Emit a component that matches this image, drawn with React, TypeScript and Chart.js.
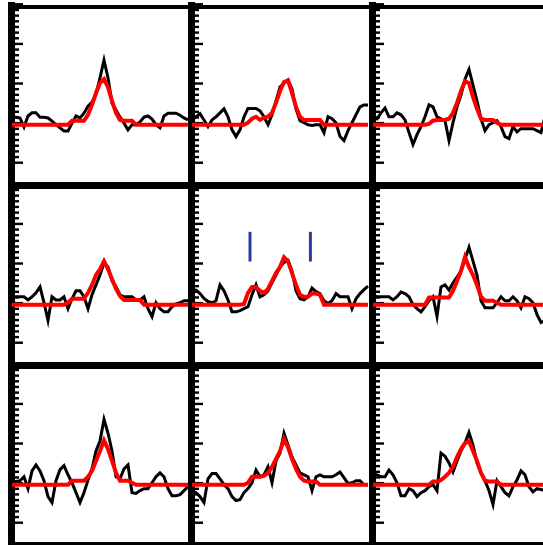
import React, { useEffect, useRef } from "react";
import { Chart, registerables } from "chart.js";

Chart.register(...registerables);

// channel index along each spectrum
const channels = [
  0, 1, 2, 3, 4, 5, 6, 7, 8, 9, 10, 11, 12, 13, 14, 15, 16, 17, 18, 19, 20, 21,
  22, 23, 24, 25, 26, 27, 28, 29, 30, 31, 32, 33, 34, 35, 36, 37, 38, 39, 40, 41,
  42, 43, 44,
];

// observed spectra (black)
const spec1 = [0.19, 0.19, 0.17, -0.06, 0.22, 0.3, 0.3, 0.19, 0.19, 0.17, 0.09, 0.0, -0.08, -0.16, -0.16, 0.04, 0.22, 0.17, 0.29, 0.47, 0.57, 0.77, 1.18, 1.63, 1.18, 0.55, 0.37, 0.19, 0.04, -0.13, 0.0, 0.0, 0.07, 0.19, 0.22, 0.14, 0.0, -0.08, 0.22, 0.29, 0.29, 0.29, 0.24, 0.17, 0.12];
const spec2 = [0.12, 0.2, 0.28, 0.12, -0.05, 0.12, 0.2, 0.3, 0.4, 0.2, -0.13, -0.3, -0.13, 0.2, 0.41, 0.41, 0.41, 0.35, 0.2, 0.0, 0.25, 0.6, 0.95, 1.05, 1.13, 0.9, 0.4, 0.1, 0.05, 0.0, -0.02, 0.0, 0.0, -0.2, 0.2, 0.15, 0.05, -0.3, -0.4, -0.15, 0.05, 0.25, 0.45, 0.5, 0.5];
const spec3 = [0.2, 0.15, 0.3, 0.42, 0.2, 0.2, 0.3, 0.25, 0.12, -0.2, -0.5, -0.25, -0.05, 0.2, 0.5, 0.45, 0.2, 0.15, 0.1, -0.4, 0.05, 0.45, 0.75, 1.15, 1.4, 1.0, 0.6, 0.15, -0.15, 0.0, 0.05, 0.1, -0.05, -0.3, -0.35, -0.05, -0.18, -0.1, -0.1, -0.1, -0.1, -0.15, -0.2, 0.2, 0.3];
const spec4 = [0.2, 0.2, 0.2, 0.2, 0.12, 0.2, 0.3, 0.45, 0.05, -0.4, 0.2, 0.12, 0.12, 0.2, -0.1, 0.15, 0.35, 0.35, 0.2, -0.1, 0.25, 0.5, 0.75, 1.05, 0.95, 0.6, 0.45, 0.25, 0.2, 0.2, 0.2, 0.12, 0.12, 0.2, -0.1, -0.3, 0.05, -0.1, -0.18, -0.18, -0.05, 0.02, 0.05, 0.1, 0.1];
const spec5 = [0.35, 0.37, 0.28, 0.16, 0.08, 0.05, 0.1, 0.5, 0.35, 0.12, -0.18, -0.18, -0.15, -0.1, -0.05, 0.25, 0.5, 0.2, 0.25, 0.35, 0.55, 0.75, 0.95, 1.07, 1.12, 0.85, 0.35, 0.15, 0.12, 0.2, 0.42, 0.33, 0.28, 0.1, 0.03, 0.1, 0.28, 0.2, 0.2, 0.2, -0.1, 0.15, 0.28, 0.38, 0.47];
const spec6 = [0.25, 0.2, 0.2, 0.2, 0.2, 0.12, 0.2, 0.32, 0.28, 0.2, 0.0, -0.1, -0.18, -0.05, 0.1, 0.2, -0.3, 0.45, 0.5, 0.37, 0.55, 0.7, 0.85, 1.15, 1.45, 1.1, 0.75, 0.1, -0.08, -0.08, -0.08, 0.05, 0.2, 0.1, 0.1, 0.2, 0.1, -0.08, 0.2, 0.15, 0.05, -0.25, -0.45, -0.4, -0.3];
const spec7 = [0.08, 0.08, 0.1, 0.2, -0.1, 0.35, 0.5, 0.35, 0.1, -0.3, -0.45, 0.1, 0.38, 0.48, 0.25, 0.05, -0.2, -0.45, -0.2, 0.12, 0.4, 0.85, 1.1, 1.65, 1.3, 0.85, 0.2, 0.15, 0.4, 0.5, -0.2, -0.22, -0.15, -0.1, -0.1, 0.05, 0.2, 0.3, 0.2, -0.1, -0.28, -0.28, -0.25, -0.15, -0.05];
const spec8 = [-0.15, -0.2, -0.3, -0.45, 0.15, 0.28, 0.28, 0.15, 0.0, -0.1, -0.3, -0.4, -0.38, -0.2, -0.1, 0.05, 0.37, 0.2, 0.25, 0.45, 0.05, 0.6, 0.8, 1.3, 1.0, 0.7, 0.5, 0.3, 0.25, 0.2, -0.15, 0.2, 0.25, 0.2, 0.2, 0.2, 0.25, 0.32, 0.18, 0.03, 0.05, 0.1, 0.1, 0.0, 0.0];
const spec9 = [0.25, 0.25, 0.2, 0.2, 0.37, 0.25, 0.05, -0.28, -0.28, -0.1, -0.15, -0.3, -0.2, -0.15, -0.05, 0.0, -0.15, 0.8, 0.72, 0.55, 0.32, 0.6, 0.85, 1.05, 1.32, 1.0, 0.55, 0.3, 0.1, -0.15, -0.5, 0.1, -0.05, -0.2, -0.28, -0.05, 0.12, 0.35, 0.25, -0.05, -0.18, -0.1, -0.12, -0.15, -0.1];

// model fits (red)
const fit1 = [0, 0, 0, 0, 0, 0, 0, 0, 0, 0, 0, 0, 0, 0, 0, 0.1, 0.1, 0.1, 0.1, 0.25, 0.5, 0.8, 1.05, 1.15, 0.95, 0.6, 0.3, 0.12, 0.1, 0.1, 0.1, 0, 0, 0, 0, 0, 0, 0, 0, 0, 0, 0, 0, 0, 0];
const fit2 = [0, 0, 0, 0, 0, 0, 0, 0, 0, 0, 0, 0, 0, 0, 0.05, 0.15, 0.2, 0.12, 0.18, 0.2, 0.3, 0.55, 0.85, 1.08, 1.12, 0.8, 0.45, 0.2, 0.12, 0.12, 0.12, 0.12, 0.12, 0, 0, 0, 0, 0, 0, 0, 0, 0, 0, 0, 0];
const fit3 = [0, 0, 0, 0, 0, 0, 0, 0, 0, 0, 0, 0, 0, 0, 0.02, 0.1, 0.12, 0.12, 0.12, 0.15, 0.3, 0.55, 0.85, 1.1, 1.05, 0.7, 0.4, 0.15, 0.12, 0.12, 0.12, 0.05, 0, 0, 0, 0, 0, 0, 0, 0, 0, 0, 0, 0, 0];
const fit4 = [0, 0, 0, 0, 0, 0, 0, 0, 0, 0, 0, 0, 0, 0, 0.05, 0.15, 0.15, 0.15, 0.15, 0.3, 0.5, 0.75, 0.9, 1.1, 0.9, 0.65, 0.4, 0.22, 0.12, 0.12, 0.12, 0.12, 0.12, 0, 0, 0, 0, 0, 0, 0, 0, 0, 0, 0, 0];
const fit5 = [0, 0, 0, 0, 0, 0, 0, 0, 0, 0, 0, 0, 0, 0.02, 0.3, 0.45, 0.45, 0.35, 0.3, 0.4, 0.6, 0.8, 0.95, 1.2, 1.1, 0.8, 0.5, 0.25, 0.2, 0.2, 0.28, 0.28, 0.25, 0, 0, 0, 0, 0, 0, 0, 0, 0, 0, 0, 0];
const fit6 = [0, 0, 0, 0, 0, 0, 0, 0, 0, 0, 0, 0, 0, 0, 0.18, 0.18, 0.18, 0.18, 0.18, 0.18, 0.35, 0.6, 0.85, 1.2, 0.95, 0.75, 0.5, 0.2, 0.1, 0.1, 0.1, 0.05, 0, 0, 0, 0, 0, 0, 0, 0, 0, 0, 0, 0, 0];
const fit7 = [0, 0, 0, 0, 0, 0, 0, 0, 0, 0, 0, 0, 0, 0, 0, 0.1, 0.1, 0.1, 0.1, 0.2, 0.35, 0.6, 0.85, 1.12, 0.9, 0.6, 0.3, 0.1, 0.1, 0.1, 0.05, 0, 0, 0, 0, 0, 0, 0, 0, 0, 0, 0, 0, 0, 0];
const fit8 = [0, 0, 0, 0, 0, 0, 0, 0, 0, 0, 0, 0, 0, 0, 0.05, 0.2, 0.2, 0.2, 0.22, 0.3, 0.45, 0.65, 0.85, 1.15, 0.95, 0.65, 0.4, 0.2, 0.1, 0.08, 0.08, 0.08, 0, 0, 0, 0, 0, 0, 0, 0, 0, 0, 0, 0, 0];
const fit9 = [0, 0, 0, 0, 0, 0, 0, 0, 0, 0, 0, 0, 0, 0, 0, 0.08, 0.08, 0.12, 0.2, 0.3, 0.45, 0.7, 0.9, 1.05, 1.1, 0.85, 0.6, 0.3, 0.1, 0.08, 0.08, 0.08, 0, 0, 0, 0, 0, 0, 0, 0, 0, 0, 0, 0, 0];

// line markers in the centre panel (channel, and vertical extent)
const markerChannels = [14.5, 29.6];
const markerLow = 1.09;
const markerHigh = 1.84;

// y axis ticks: major every unit, 7 minor steps between
const majorTickValues = [-1, 0, 1, 2, 3];
const minorPerMajor = 7;
const tickOffset = 0.04;

const spectra = [spec1, spec2, spec3, spec4, spec5, spec6, spec7, spec8, spec9];
const fits = [fit1, fit2, fit3, fit4, fit5, fit6, fit7, fit8, fit9];

// layout (pixels)
const COL_LEFT = [8, 188, 369];
const ROW_TOP = [2, 182, 362];
const CANVAS_W = 186;
const PX_PER_CHANNEL = 4;
const ZERO_Y = 122.7;
const PX_PER_UNIT = 39.6;

function buildTicks() {
  const out: { v: number; major: boolean }[] = [];
  for (const m of majorTickValues) {
    for (let j = 0; j < minorPerMajor; j++) {
      out.push({ v: m + tickOffset + j / minorPerMajor, major: j === 0 });
    }
  }
  return out;
}

function framePlugin(row: number) {
  const ticks = buildTicks();
  return {
    id: "frame" + row,
    beforeDatasetsDraw(chart: any) {
      const { ctx } = chart;
      const y = chart.scales.y;
      const w = chart.width;
      const h = chart.height;
      ctx.save();
      ctx.fillStyle = "#000";
      // left axis band
      ctx.fillRect(0, 0, 7, h);
      // ticks pointing inward
      for (const t of ticks) {
        const py = y.getPixelForValue(t.v);
        if (py < 0 || py > h) continue;
        ctx.fillRect(7, py - 1.2, t.major ? 8 : 4, 2.4);
      }
      // top band
      if (row === 0) ctx.fillRect(0, 3, w, 4);
      else ctx.fillRect(0, 0, w, 7);
      // bottom band for last row
      if (row === 2) ctx.fillRect(0, 180, w, h - 180);
      ctx.restore();
    },
  };
}

function Panel({ index }: { index: number }) {
  const ref = useRef<HTMLCanvasElement | null>(null);
  const row = Math.floor(index / 3);
  const col = index % 3;
  const height = row === 2 ? 183 : 180;

  useEffect(() => {
    const canvas = ref.current;
    if (!canvas) return;
    const spec = spectra[index];
    const fit = fits[index];
    const datasets: any[] = [
      {
        data: fit.map((v, i) => ({ x: channels[i], y: v })),
        borderColor: "#ff0000",
        borderWidth: 4,
        pointRadius: 0,
        tension: 0,
        fill: false,
        order: 1,
      },
      {
        data: spec.map((v, i) => ({ x: channels[i], y: v })),
        borderColor: "#000000",
        borderWidth: 3,
        pointRadius: 0,
        tension: 0,
        fill: false,
        order: 2,
      },
    ];
    if (index === 4) {
      for (const c of markerChannels) {
        datasets.push({
          data: [
            { x: c, y: markerLow },
            { x: c, y: markerHigh },
          ],
          borderColor: "#2a3c9e",
          borderWidth: 3,
          pointRadius: 0,
          fill: false,
          order: 0,
        });
      }
    }
    const chart = new Chart(canvas, {
      type: "line",
      data: { datasets },
      options: {
        animation: false,
        responsive: false,
        maintainAspectRatio: false,
        devicePixelRatio: 1,
        events: [],
        layout: { padding: 0 },
        plugins: { legend: { display: false }, tooltip: { enabled: false } },
        scales: {
          x: {
            type: "linear",
            display: false,
            min: -1,
            max: -1 + CANVAS_W / PX_PER_CHANNEL,
          },
          y: {
            type: "linear",
            display: false,
            min: -(height - ZERO_Y) / PX_PER_UNIT,
            max: ZERO_Y / PX_PER_UNIT,
          },
        },
      },
      plugins: [framePlugin(row)],
    } as any);
    return () => chart.destroy();
  }, [index, height]);

  return (
    <canvas
      ref={ref}
      width={CANVAS_W}
      height={height}
      style={{
        position: "absolute",
        left: COL_LEFT[col],
        top: ROW_TOP[row],
        width: CANVAS_W,
        height,
      }}
    />
  );
}

export default function App() {
  return (
    <div
      style={{
        position: "absolute",
        left: 0,
        top: 0,
        width: 543,
        height: 545,
        overflow: "hidden",
        background: "#ffffff",
      }}
    >
      {[0, 1, 2, 3, 4, 5, 6, 7, 8].map((i) => (
        <Panel key={i} index={i} />
      ))}
    </div>
  );
}
